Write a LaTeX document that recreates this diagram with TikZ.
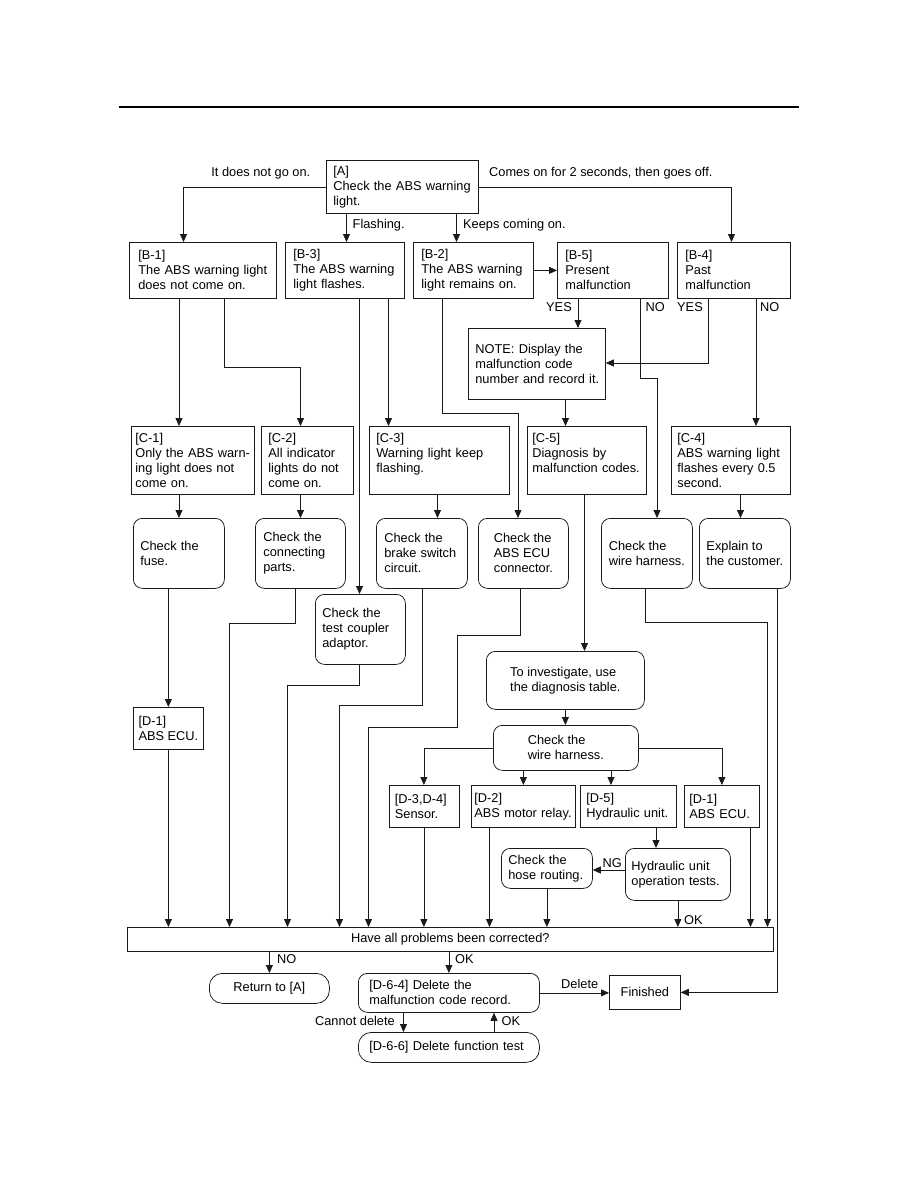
\documentclass[tikz,border=0pt]{standalone}
\usepackage{fontspec}
\setmainfont{Liberation Sans}
\usetikzlibrary{arrows.meta}
\definecolor{AbsLine}{HTML}{1A1A1A}
\newcommand{\flowfont}{\fontsize{12.8}{15}\selectfont}
\tikzset{
  absbox/.style={draw=AbsLine,line width=0.75pt,anchor=north west,align=left,inner ysep=0pt,font=\flowfont},
  absround/.style={absbox,rounded corners=9pt},
  abspill/.style={absbox,rounded corners=13pt},
  absarrow/.style={draw=AbsLine,line width=0.75pt,-{Triangle[length=8pt,width=7pt]}},
  abslabel/.style={font=\flowfont,inner sep=0pt},
}
\begin{document}
\begin{tikzpicture}[x=1pt,y=-1pt]
    \useasboundingbox (0,0) rectangle (918,1188);
    \coordinate (ruleL) at (119,107);
    \coordinate (ruleR) at (799,107);
    \draw[line width=2.2pt] (ruleL) -- (ruleR);

    \node[absbox,minimum height=53pt,inner xsep=7pt,text width=138pt] (A) at (326,160) {[A]\\Check the ABS warning\\light.};

    \node[absbox,minimum height=56pt,inner xsep=9pt,text width=129pt] (B1) at (129,242) {[B-1]\\The ABS warning light\\does not come on.};
    \node[absbox,minimum height=56pt,inner xsep=8pt,text width=103pt] (B3) at (285,242) {[B-3]\\The ABS warning\\light flashes.};
    \node[absbox,minimum height=56pt,inner xsep=8pt,text width=104pt] (B2) at (413,242) {[B-2]\\The ABS warning\\light remains on.};
    \node[absbox,minimum height=56pt,inner xsep=8pt,text width=95pt] (B5) at (557,242) {[B-5]\\Present\\malfunction};
    \node[absbox,minimum height=56pt,inner xsep=8pt,text width=97pt] (B4) at (677,242) {[B-4]\\Past\\malfunction};

    \node[absbox,minimum height=71pt,inner xsep=4pt,text width=129pt] (note) at (468,328) {\hspace*{3pt}NOTE: Display the\\\hspace*{3pt}malfunction code\\\hspace*{3pt}number and record it.};

    \node[absbox,minimum height=68pt,inner xsep=4pt,text width=115pt] (C1) at (131,426) {[C-1]\\Only the ABS warn-\\ing light does not\\come on.};
    \node[absbox,minimum height=68pt,inner xsep=7pt,text width=78pt] (C2) at (261,426) {[C-2]\\All indicator\\lights do not\\come on.};
    \node[absbox,minimum height=68pt,inner xsep=7pt,text width=126pt] (C3) at (369,426) {[C-3]\\Warning light keep\\flashing.\\\mbox{}};
    \node[absbox,minimum height=68pt,inner xsep=5pt,text width=109pt] (C5) at (527,426) {[C-5]\\Diagnosis by\\malfunction codes.\\\mbox{}};
    \node[absbox,minimum height=68pt,inner xsep=6pt,text width=107pt] (C4) at (671,426) {[C-4]\\ABS warning light\\flashes every 0.5\\second.};

    \node[absround,minimum height=70pt,inner xsep=7pt,text width=77pt] (fuse) at (133,518) {Check the\\fuse.};
    \node[absround,minimum height=70pt,inner xsep=8pt,text width=74pt] (conn) at (255,518) {Check the\\connecting\\parts.};
    \node[absround,minimum height=70pt,inner xsep=8pt,text width=75pt] (brake) at (376,518) {Check the\\brake switch\\circuit.};
    \node[absround,minimum height=70pt,minimum width=90pt] (abc) at (478,518) {Check the\\ABS ECU\\connector.};
    \node[absround,minimum height=70pt,minimum width=91pt] (wire) at (601,518) {Check the\\wire harness.};
    \node[absround,minimum height=70pt,minimum width=91pt] (expl) at (699,518) {Explain to\\the customer.};

    \node[absround,minimum height=70pt,inner xsep=7pt,text width=76pt] (cpl) at (315,594) {Check the\\test coupler\\adaptor.};
    \node[absround,minimum height=58pt,minimum width=158pt] (inv) at (486,651) {To investigate, use\\the diagnosis table.};
    \node[absbox,minimum height=42pt,minimum width=70pt] (D1) at (133,707) {[D-1]\\ABS ECU.};
    \node[absround,minimum height=45pt,minimum width=145pt] (chk) at (493,725) {Check the\\wire harness.};

    \node[absbox,minimum height=42pt,inner xsep=6pt,text width=58pt] (d34) at (388.5,785) {[D-3,D-4]\\Sensor.};
    \node[absbox,minimum height=42pt,inner xsep=3pt,text width=98pt] (d2) at (471,785) {[D-2]\\ABS motor relay.};
    \node[absbox,minimum height=42pt,inner xsep=6pt,text width=84pt] (d5) at (580,785) {[D-5]\\Hydraulic unit.};
    \node[absbox,minimum height=42pt,inner xsep=5pt,text width=65pt] (d1b) at (684,785) {[D-1]\\ABS ECU.};

    \node[absround,minimum height=40pt,inner xsep=7pt,text width=77pt] (hose) at (501,848) {Check the\\hose routing.};
    \node[absround,minimum height=52pt,inner xsep=6pt,text width=93pt] (hyd) at (625,848) {Hydraulic unit\\operation tests.};

    \node[absbox,minimum height=24pt,minimum width=646pt] (q) at (127,927) {Have all problems been corrected?};
    \node[abspill,minimum height=30pt,minimum width=120pt] (ret) at (209,973) {Return to [A]};
    \node[absround,minimum height=39pt,inner xsep=11pt,text width=159pt] (d64) at (358,973) {[D-6-4] Delete the\\malfunction code record.};
    \node[abspill,minimum height=30pt,inner xsep=11pt,text width=159pt] (d66) at (358,1032) {[D-6-6] Delete function test};
    \node[absbox,minimum height=34pt,minimum width=71pt] (fin) at (609,975) {Finished};

    \coordinate (aL) at (183.5,0);
    \coordinate (aR) at (731.5,0);
    \coordinate (flX) at (346.5,0);
    \coordinate (kcX) at (456.5,0);
    \draw[absarrow] (A.west) -| (B1.north -| aL);
    \draw[absarrow] (A.east) -| (B4.north -| aR);
    \draw[absarrow] (A.south -| flX) -- (B3.north -| flX);
    \draw[absarrow] (A.south -| kcX) -- (B2.north -| kcX);
    \draw[absarrow] (B2.east) -- (B5.west);

    \coordinate (b1L) at (179,0);
    \coordinate (b1R) at (224.5,367);
    \coordinate (c2X) at (300.5,367);
    \draw[absarrow] (B1.south -| b1L) -- (C1.north -| b1L);
    \draw[absarrow] (B1.south -| b1R) -- (b1R) -- (c2X) -- (C2.north -| c2X);
    \coordinate (b3L) at (359.5,0);
    \coordinate (b3R) at (388.5,0);
    \draw[absarrow] (B3.south -| b3L) -- (cpl.north -| b3L);
    \draw[absarrow] (B3.south -| b3R) -- (C3.north -| b3R);
    \coordinate (b2A) at (442,413);
    \coordinate (b2B) at (518,413);
    \draw[absarrow] (B2.south -| b2A) -- (b2A) -- (b2B) -- (abc.north -| b2B);
    \coordinate (b5Y) at (578,0);
    \coordinate (b5N) at (640,378);
    \coordinate (b5W) at (657,378);
    \draw[absarrow] (B5.south -| b5Y) -- (note.north -| b5Y);
    \draw[absarrow] (B5.south -| b5N) -- (b5N) -- (b5W) -- (wire.north -| b5W);
    \coordinate (b4Y) at (708,363);
    \coordinate (b4N) at (756,0);
    \draw[absarrow] (B4.south -| b4Y) |- (note.east |- b4Y);
    \draw[absarrow] (B4.south -| b4N) -- (C4.north -| b4N);
    \coordinate (ntX) at (565.5,0);
    \draw[absarrow] (note.south -| ntX) -- (C5.north -| ntX);

    \draw[absarrow] (C1.south -| b1L) -- (fuse.north -| b1L);
    \draw[absarrow] (C2.south -| c2X) -- (conn.north -| c2X);
    \coordinate (c3X) at (437.5,0);
    \draw[absarrow] (C3.south -| c3X) -- (brake.north -| c3X);
    \coordinate (c4X) at (740.5,0);
    \draw[absarrow] (C4.south -| c4X) -- (expl.north -| c4X);
    \coordinate (c5X) at (584.5,0);
    \draw[absarrow] (C5.south -| c5X) -- (inv.north -| c5X);

    \draw[absarrow] (fuse.south -| D1) -- (D1);
    \draw[absarrow] (D1) -- (q.north -| D1);
    \coordinate (cnA) at (295,623);
    \coordinate (cnB) at (229.5,623);
    \draw[absarrow] (conn.south -| cnA) -- (cnA) -- (cnB) -- (q.north -| cnB);
    \coordinate (cpA) at (359.5,685);
    \coordinate (cpB) at (287.5,685);
    \draw[absarrow] (cpl.south -| cpA) -- (cpA) -- (cpB) -- (q.north -| cpB);
    \coordinate (brA) at (422,705);
    \coordinate (brB) at (339.5,705);
    \draw[absarrow] (brake.south -| brA) -- (brA) -- (brB) -- (q.north -| brB);
    \coordinate (abA) at (520,635);
    \coordinate (abB) at (457.5,635);
    \coordinate (abC) at (457.5,727);
    \coordinate (abD) at (368.5,727);
    \draw[absarrow] (abc.south -| abA) -- (abA) -- (abB) -- (abC) -- (abD) -- (q.north -| abD);
    \coordinate (wrA) at (645.5,622);
    \coordinate (wrB) at (767.5,622);
    \draw[absarrow] (wire.south -| wrA) -- (wrA) -- (wrB) -- (q.north -| wrB);
    \coordinate (exX) at (777,0);
    \draw[absarrow] (expl.south -| exX) |- (fin.east);

    \draw[absarrow] (inv.south) -- (chk.north -| inv.south);
    \draw[absarrow] (chk.west) -| (d34.north);
    \draw[absarrow] (chk.east) -| (d1b.north);
    \draw[absarrow] (chk.south -| d2.north) -- (d2.north);
    \coordinate (d5X) at (611,0);
    \draw[absarrow] (chk.south -| d5X) -- (d5.north -| d5X);

    \draw[absarrow] (d34) -- (q.north -| d34);
    \coordinate (d2X) at (489.5,0);
    \draw[absarrow] (d2.south -| d2X) -- (q.north -| d2X);
    \coordinate (d5Y) at (656,0);
    \draw[absarrow] (d5.south -| d5Y) -- (hyd.north -| d5Y);
    \coordinate (d1X) at (750.5,0);
    \draw[absarrow] (d1b.south -| d1X) -- (q.north -| d1X);
    \coordinate (ngY) at (0,870);
    \draw[absarrow] (hyd.west |- ngY) -- (hose.east |- ngY);
    \draw[absarrow] (hose) -- (q.north -| hose);
    \draw[absarrow] (hyd) -- (q.north -| hyd);

    \draw[absarrow] (q.south -| ret) -- (ret);
    \draw[absarrow] (q.south -| d64) -- (d64);
    \draw[absarrow] (d64.east) -- (fin.west |- d64.east);
    \coordinate (cdX) at (403.5,0);
    \coordinate (okX) at (494,0);
    \draw[absarrow] (d64.south -| cdX) -- (d66.north -| cdX);
    \draw[absarrow] (d66.north -| okX) -- (d64.south -| okX);

    \node[abslabel,anchor=base east] (lOff) at (310.5,176) {It does not go on.};
    \node[abslabel,anchor=base west] (lOnOff) at (489,176) {Comes on for 2 seconds, then goes off.};
    \node[abslabel,anchor=base west] (lFlash) at (352.5,228) {Flashing.};
    \node[abslabel,anchor=base west] (lKeep) at (463,228) {Keeps coming on.};
    \node[abslabel,anchor=base east] (lYesFive) at (572,311.5) {YES};
    \node[abslabel,anchor=base west] (lNoFive) at (645.5,311.5) {NO};
    \node[abslabel,anchor=base east] (lYesFour) at (703,311.5) {YES};
    \node[abslabel,anchor=base west] (lNoFour) at (760,311.5) {NO};
    \node[abslabel,anchor=base west] (lNg) at (602.5,867) {NG};
    \node[abslabel,anchor=base west] (lOkHyd) at (684,924) {OK};
    \node[abslabel,anchor=base west] (lNoQ) at (277,963) {NO};
    \node[abslabel,anchor=base west] (lOkQ) at (455,963) {OK};
    \node[abslabel,anchor=base west] (lDel) at (561,988) {Delete};
    \node[abslabel,anchor=base east] (lCant) at (395,1025) {Cannot delete};
    \node[abslabel,anchor=base west] (lOkDel) at (501.5,1025) {OK};
  \end{tikzpicture}
\end{document}
